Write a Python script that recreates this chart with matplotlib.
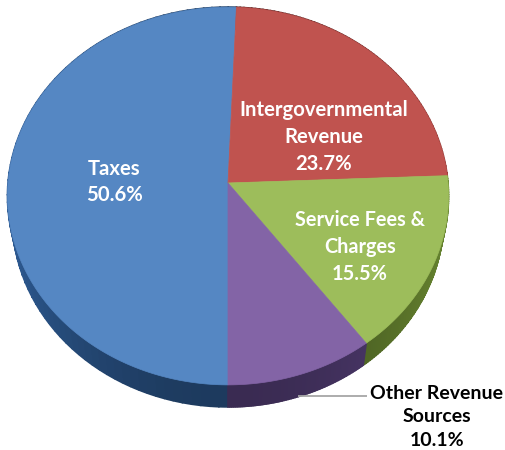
import numpy as np
import matplotlib
matplotlib.use("Agg")
import matplotlib.pyplot as plt

# Revenue shares, clockwise from the bottom of the pie
categories = ["Taxes", "Intergovernmental\nRevenue", "Service Fees &\nCharges", "Other Revenue\nSources"]
shares = [50.6, 23.7, 15.5, 10.1]
face_colors = ["#5587c3", "#c0534f", "#9dbd5b", "#8364a6"]
side_colors = ["#1d3a5e", "#5e2523", "#43561f", "#3a2b52"]
label_xy = [(114, 182), (324, 137), (360, 247), (437, 417)]
label_sizes = [14.6, 14.6, 14.3, 14.0]
label_colors = ["white", "white", "white", "black"]

# Canvas in pixel units, y pointing down
fig = plt.figure(figsize=(5.05, 4.5), dpi=100)
ax = fig.add_axes([0, 0, 1, 1])
ax.set_xlim(0, 505)
ax.set_ylim(450, 0)
ax.axis("off")

CX, CY, RX, RY, PERSP, DEPTH, LOWER_SCALE = 228, 183, 220, 188, 0.0688, 22, 0.978


def project(theta):
    """Tilted-disc projection of a rim angle (clockwise from 12 o'clock)."""
    u, v = np.sin(theta), np.cos(theta)
    d = 1 + PERSP * v
    return CX + RX * u / d, CY - RY * v / d


edges = np.pi + np.concatenate([[0], np.cumsum(shares)]) / sum(shares) * 2 * np.pi

# Extruded rim, lit a little more towards the sides of the disc
for i in range(len(shares)):
    steps = np.linspace(edges[i], edges[i + 1], 81)
    base = np.array(matplotlib.colors.to_rgb(side_colors[i]))
    for a, b in zip(steps[:-1], steps[1:]):
        t = np.linspace(a, b, 6)
        x, y = project(t)
        lx = CX + (x - CX) * LOWER_SCALE
        shade = np.clip(base * (1 + 0.55 * np.sin((a + b) / 2) ** 2), 0, 1)
        ax.fill(np.r_[x, lx[::-1]], np.r_[y, (y + DEPTH)[::-1]],
                facecolor=shade, edgecolor=shade, lw=1.2, zorder=2)

# Top face over the rim
for i in range(len(shares)):
    t = np.linspace(edges[i], edges[i + 1], 240)
    x, y = project(t)
    ax.fill(np.r_[CX, x], np.r_[CY, y], color=face_colors[i], lw=0.5, zorder=3)

# Leader line for the outside label
ax.plot([298, 367], [396, 396], color="#a6a6a6", lw=1.3, zorder=4, solid_capstyle="butt")

for name, share, (lx, ly), size, c in zip(categories, shares, label_xy, label_sizes, label_colors):
    ax.text(lx, ly, f"{name}\n{share}%", color=c, ha="center", va="center",
            family="Lato", weight="bold", fontsize=size, linespacing=1.43, zorder=5)

fig.savefig("out.png", dpi=100)
